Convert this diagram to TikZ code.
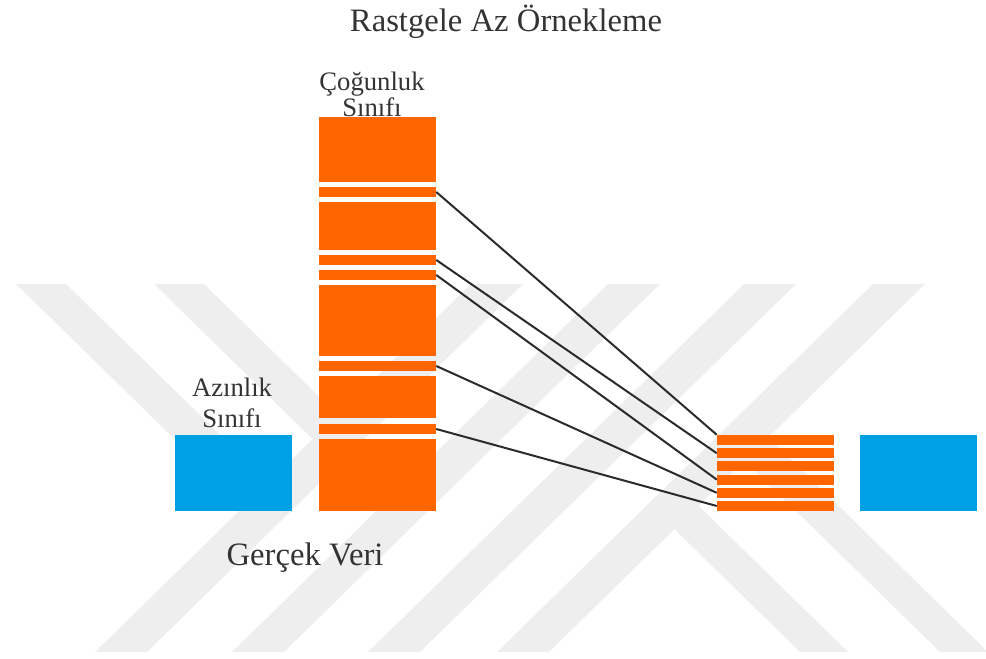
\documentclass[tikz,border=0pt]{standalone}
\usepackage{fontspec}
\setmainfont{Liberation Serif}
\begin{document}
\begin{tikzpicture}[x=0.75pt,y=-0.75pt,
    bar/.style={shape=rectangle,fill=major_fg,inner sep=0pt,minimum width=87.75pt},
    minbox/.style={shape=rectangle,fill=minor_fg,inner sep=0pt,minimum width=87.75pt,minimum height=57pt},
    lbl/.style={anchor=base,text=label_fg,inner sep=0pt,font=\fontsize{20}{24}\selectfont},
    ttl/.style={anchor=base,text=label_fg,inner sep=0pt,font=\fontsize{24.5}{29}\selectfont},
    link/.style={draw=link_fg,line width=1.5pt}]
    \definecolor{major_fg}{RGB}{255,102,0}
    \definecolor{minor_fg}{RGB}{0,161,228}
    \definecolor{label_fg}{RGB}{51,51,51}
    \definecolor{link_fg}{RGB}{43,43,43}
    \definecolor{wmgray}{RGB}{238,238,238}
    \useasboundingbox (0,0) rectangle (986,659);
    \clip (0,0) rectangle (986,659);
    % grey stripes in the background
    \fill[wmgray] (95,652) -- (147,652) -- (523,284) -- (471,284) -- cycle;
    \fill[wmgray] (232,652) -- (284,652) -- (660,284) -- (608,284) -- cycle;
    \fill[wmgray] (368,652) -- (420,652) -- (796,284) -- (744,284) -- cycle;
    \fill[wmgray] (497,652) -- (549,652) -- (925,284) -- (873,284) -- cycle;
    \fill[wmgray] (16,284) -- (66,284) -- (268.6,482.2) -- (243.5,506.6) -- cycle;
    \fill[wmgray] (154,284) -- (204,284) -- (337.6,414.7) -- (312.5,439.1) -- cycle;
    \fill[wmgray] (800,652) -- (848,652) -- (698.5,505.7) -- (674.5,529.2) -- cycle;
    \fill[wmgray] (940,652) -- (988,652) -- (768.5,437.2) -- (744.5,460.7) -- cycle;
    % original data
    \node[minbox] (min_box) at (233.5,473) {};
    \node[bar,minimum height=48.75pt] (maj_a) at (377.5,149.5) {};
    \node[bar,minimum height=7.5pt] (maj_b) at (377.5,192) {};
    \node[bar,minimum height=36pt] (maj_c) at (377.5,226) {};
    \node[bar,minimum height=7.5pt] (maj_d) at (377.5,260) {};
    \node[bar,minimum height=7.5pt] (maj_e) at (377.5,275) {};
    \node[bar,minimum height=53.25pt] (maj_f) at (377.5,320.5) {};
    \node[bar,minimum height=7.5pt] (maj_g) at (377.5,366) {};
    \node[bar,minimum height=31.5pt] (maj_h) at (377.5,397) {};
    \node[bar,minimum height=7.5pt] (maj_i) at (377.5,429) {};
    \node[bar,minimum height=54pt] (maj_j) at (377.5,475) {};
    % sampled data
    \node[bar,minimum height=7.5pt] (smp_1) at (775.5,440) {};
    \node[bar,minimum height=7.5pt] (smp_2) at (775.5,453.2) {};
    \node[bar,minimum height=7.5pt] (smp_3) at (775.5,466.4) {};
    \node[bar,minimum height=7.5pt] (smp_4) at (775.5,479.6) {};
    \node[bar,minimum height=7.5pt] (smp_5) at (775.5,492.8) {};
    \node[bar,minimum height=7.5pt] (smp_6) at (775.5,506) {};
    \node[minbox] (smp_min) at (918,473) {};
    \draw[link] (maj_b.east) to (smp_1.north west);
    \draw[link] (maj_d.east) to (smp_2.west);
    \draw[link] (maj_e.east) to (smp_4.west);
    \draw[link] (maj_g.east) to (smp_5.west);
    \draw[link] (maj_i.east) to (smp_6.west);
    \node[ttl] (title) at (506,32) {Rastgele Az Örnekleme};
    \node[lbl] (maj_lbl) at (372,91) {Çoğunluk};
    \node[lbl] (maj_lbl2) at (372,117) {Sınıfı};
    \node[lbl] (min_lbl) at (232,397) {Azınlık};
    \node[lbl] (min_lbl2) at (232,427) {Sınıfı};
    \node[ttl] (real_lbl) at (305,565) {Gerçek Veri};
\end{tikzpicture}
\end{document}
